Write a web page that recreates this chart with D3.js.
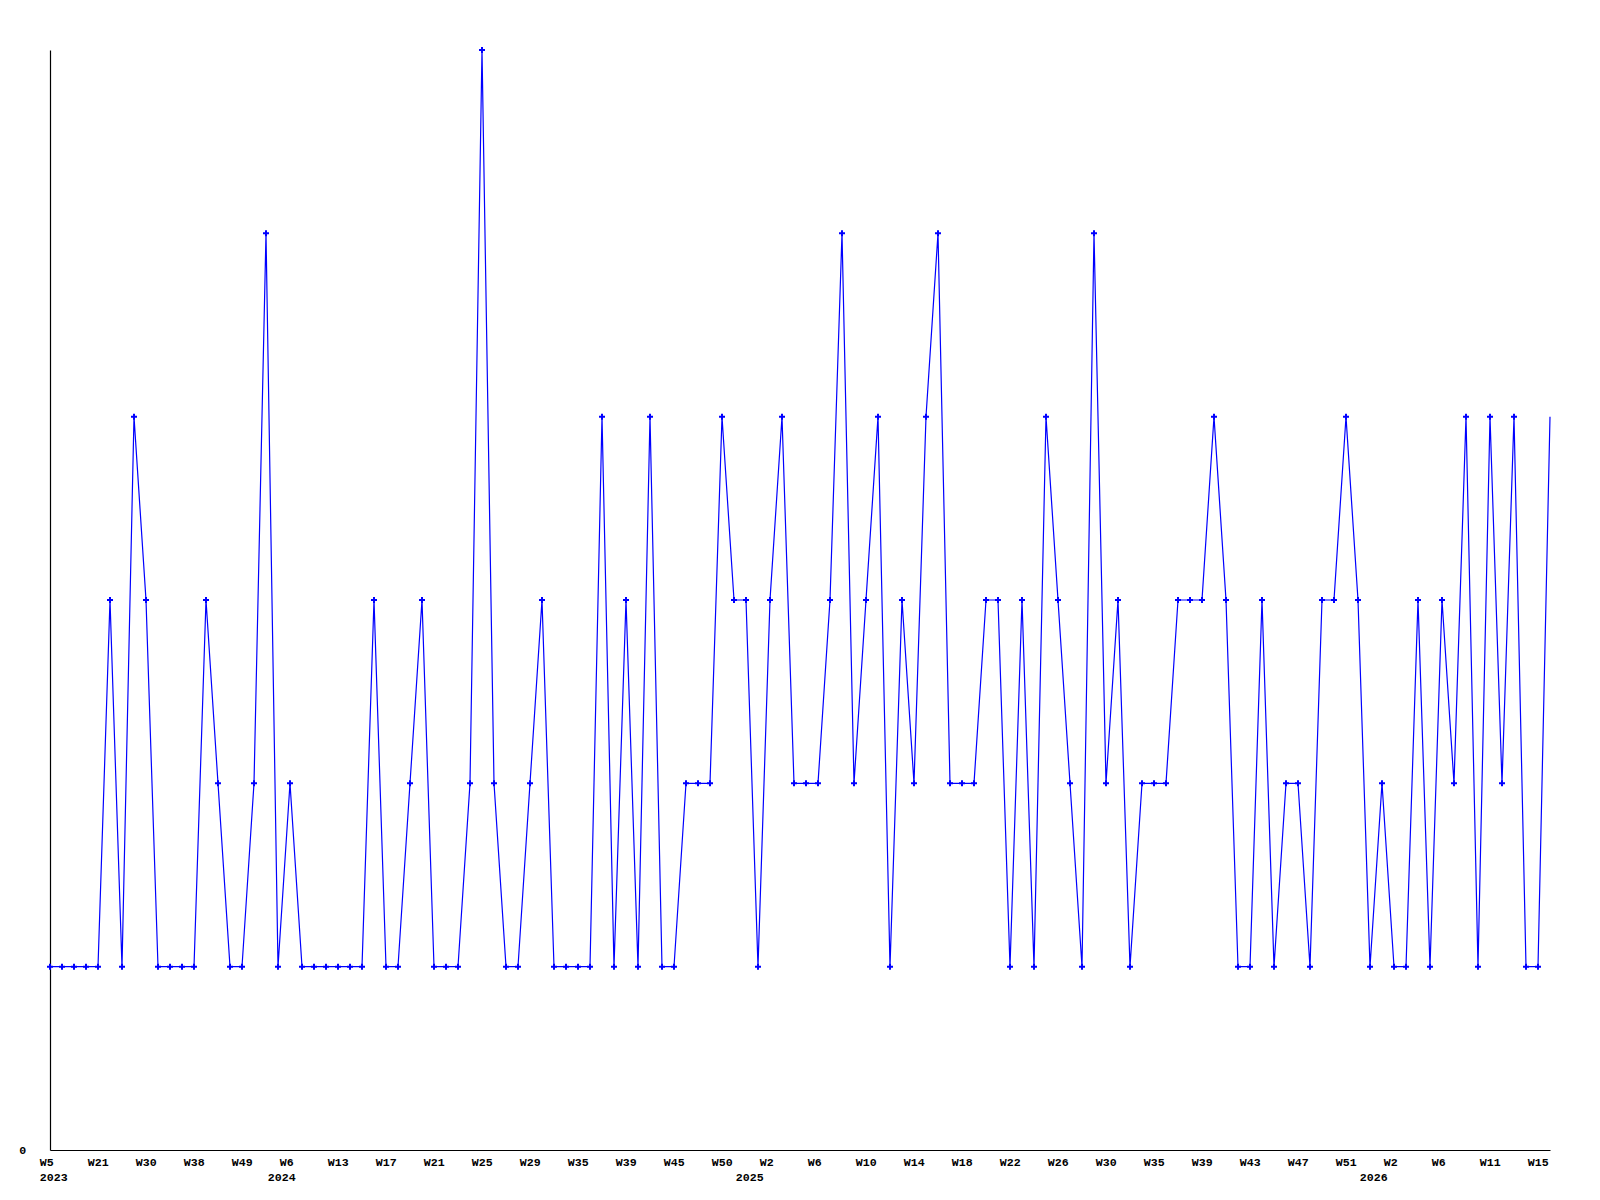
<!DOCTYPE html>
<html>
<head>
<meta charset="utf-8">
<script src="https://cdn.jsdelivr.net/npm/d3@7"></script>
<style>
  body { margin: 0; background: #fff; }
  svg { display: block; }
  text { font-family: "Liberation Mono", "DejaVu Sans Mono", monospace; font-weight: bold; font-size: 11.6px; fill: #000; }
</style>
</head>
<body>
<script>
// weekly values, one per point (only weeks that have data)
const values = [
  1,1,1,1,1,3,1,4,3,1,
  1,1,1,3,2,1,1,2,5,1,
  2,1,1,1,1,1,1,3,1,1,
  2,3,1,1,1,2,6,2,1,1,
  2,3,1,1,1,1,4,1,3,1,
  4,1,1,2,2,2,4,3,3,1,
  3,4,2,2,2,3,5,2,3,4,
  1,3,2,4,5,2,2,2,3,3,
  1,3,1,4,3,2,1,5,2,3,
  1,2,2,2,3,3,3,4,3,1,
  1,3,1,2,2,1,3,3,4,3,
  1,2,1,1,3,1,3,2,4,1,
  4,2,4,1,1,4
];

// labels shown on every 4th point
const weekTicks = ["W5","W21","W30","W38","W49",
  "W6","W13","W17","W21","W25","W29","W35","W39","W45","W50",
  "W2","W6","W10","W14","W18","W22","W26","W30","W35","W39","W43","W47","W51",
  "W2","W6","W11","W15"];
const tickStep = 4;

// year labels and the point where each year starts
const years = ["2023","2024","2025","2026"];
const yearStart = [0, 19, 58, 110];

const W = 1600, H = 1200;
const margin = { left: 50, right: 1550, top: 50, bottom: 1150 };

const svg = d3.select("body").append("svg")
    .attr("width", W)
    .attr("height", H);

const x = d3.scaleLinear().domain([0, values.length - 1]).range([margin.left, margin.right]);
const y = d3.scaleLinear().domain([0, 6]).range([margin.bottom, margin.top]);

// x axis: week labels
const tickIdx = weekTicks.map((d, i) => i * tickStep);
const xAxis = d3.axisBottom(x)
    .tickValues(tickIdx)
    .tickSize(0)
    .tickSizeOuter(0)
    .tickFormat((d, i) => weekTicks[i]);

const gx = svg.append("g")
    .attr("transform", "translate(0," + margin.bottom + ")")
    .call(xAxis);
gx.select(".domain").attr("stroke", "#000").attr("stroke-width", 1.2);
gx.selectAll("text")
    .attr("text-anchor", "start")
    .attr("x", -10.7)
    .attr("y", 16)
    .attr("dy", null)
    .attr("font-family", null)
    .attr("font-size", null);

// year row
const yearAxis = d3.axisBottom(x)
    .tickValues(yearStart)
    .tickSize(0)
    .tickSizeOuter(0)
    .tickFormat((d, i) => years[i]);
const gyear = svg.append("g")
    .attr("transform", "translate(0," + margin.bottom + ")")
    .call(yearAxis);
gyear.select(".domain").remove();
gyear.selectAll("text")
    .attr("text-anchor", "start")
    .attr("x", -10.7)
    .attr("y", 31)
    .attr("dy", null)
    .attr("font-family", null)
    .attr("font-size", null);

// y axis: only the zero label
const yAxis = d3.axisLeft(y)
    .tickValues([0])
    .tickFormat(d3.format("d"))
    .tickSize(0)
    .tickSizeOuter(0);
const gy = svg.append("g")
    .attr("transform", "translate(" + margin.left + ",0)")
    .call(yAxis);
gy.select(".domain").attr("stroke", "#000").attr("stroke-width", 1.2);
gy.selectAll("text")
    .attr("text-anchor", "start")
    .attr("x", -30.7)
    .attr("dy", "0.32em")
    .attr("font-family", null)
    .attr("font-size", null);

// the series line
const line = d3.line()
    .x((d, i) => x(i))
    .y(d => y(d));

svg.append("path")
    .datum(values)
    .attr("fill", "none")
    .attr("stroke", "#0000ff")
    .attr("stroke-width", 1.2)
    .attr("d", line);

// point markers (last point sits on the edge and has none)
const marker = d3.symbol().type(d3.symbolCross).size(20);
svg.append("g")
    .selectAll("path")
    .data(values.slice(0, -1))
    .join("path")
    .attr("d", marker)
    .attr("fill", "#0000ff")
    .attr("transform", (d, i) => "translate(" + x(i) + "," + y(d) + ")");
</script>
</body>
</html>
